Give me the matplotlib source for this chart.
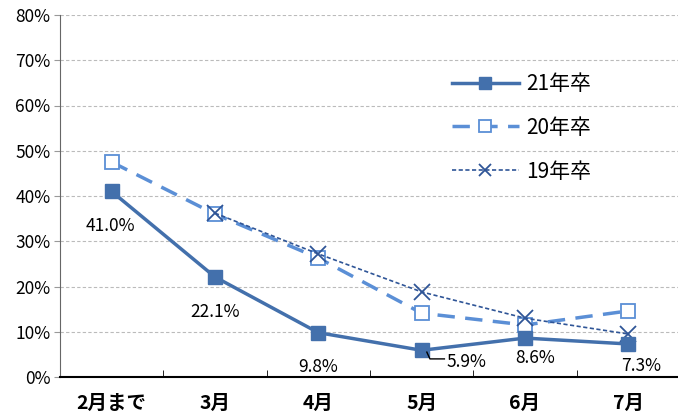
import numpy as np
import matplotlib.pyplot as plt

plt.rcParams['font.family'] = ['Noto Sans CJK JP', 'DejaVu Sans']

months = ["2月まで", "3月", "4月", "5月", "6月", "7月"]
grad21 = [41.0, 22.1, 9.8, 5.9, 8.6, 7.3]
grad20 = [47.5, 36.0, 26.3, 14.1, 11.5, 14.6]
grad19 = [np.nan, 36.2, 27.2, 18.8, 13.0, 9.5]
yticks = [0, 10, 20, 30, 40, 50, 60, 70, 80]

fig = plt.figure(figsize=(6.78, 4.18), dpi=100)
ax = fig.add_axes([60/678, 41/418, 620/678, 362/418])

x = np.arange(len(months))
ax.plot(x, grad19, color="#2F5597", lw=1.2, ls=(0, (2.5, 1.5)), marker="x",
        ms=11, mew=1.3, label="19年卒", zorder=3)
ax.plot(x, grad20, color="#5B8FD6", lw=2.5, ls=(0, (5, 3)), marker="s",
        ms=10.5, mfc="white", mec="#5B8FD6", mew=1.3, label="20年卒", zorder=2)
ax.plot(x, grad21, color="#4370AC", lw=2.5, marker="s", ms=10.5,
        mfc="#4370AC", mec="#4370AC", label="21年卒", zorder=4)

# data labels (position relative to each point)
offsets = [(-0.01, -7.6), (0, -7.7), (0, -7.6), (0.43, -2.6), (0.1, -4.4), (0.12, -4.9)]
for i, v in enumerate(grad21):
    dx, dy = offsets[i]
    ax.text(i + dx, v + dy, f"{v:.1f}%", ha="center", va="center", fontsize=12.5)
# leader line for 5.9%
ax.plot([3.05, 3.08, 3.22], [5.5, 4.0, 4.0], color="black", lw=1, zorder=5)

ax.set_xlim(-0.5, 5.5)
ax.set_ylim(0, 80)
ax.set_yticks(yticks)
ax.set_yticklabels([f"{t}%" for t in yticks], fontsize=12.5)
ax.set_xticks(x)
ax.set_xticklabels(months, fontsize=14, fontweight="bold")
ax.set_xticks(np.arange(-0.5, 5.6, 1), minor=True)
ax.tick_params(axis="x", which="major", length=0, pad=12)
ax.tick_params(axis="x", which="minor", direction="in", length=5, color="black")
ax.tick_params(axis="y", length=4, color="#999999", direction="out", pad=3)
ax.grid(axis="y", color="#BBBBBB", ls=(0, (3, 2)), lw=0.8)
ax.spines["top"].set_visible(False)
ax.spines["right"].set_visible(False)
ax.spines["left"].set_color("#666666")
ax.spines["bottom"].set_linewidth(1.5)

handles, labels = ax.get_legend_handles_labels()
ax.legend(handles[::-1], labels[::-1], loc="upper left", bbox_to_anchor=(0.602, 0.892),
          frameon=False, fontsize=15, handlelength=3.2, labelspacing=1.05,
          handletextpad=0.35, markerscale=0.8)

fig.savefig("out.png", dpi=100)
